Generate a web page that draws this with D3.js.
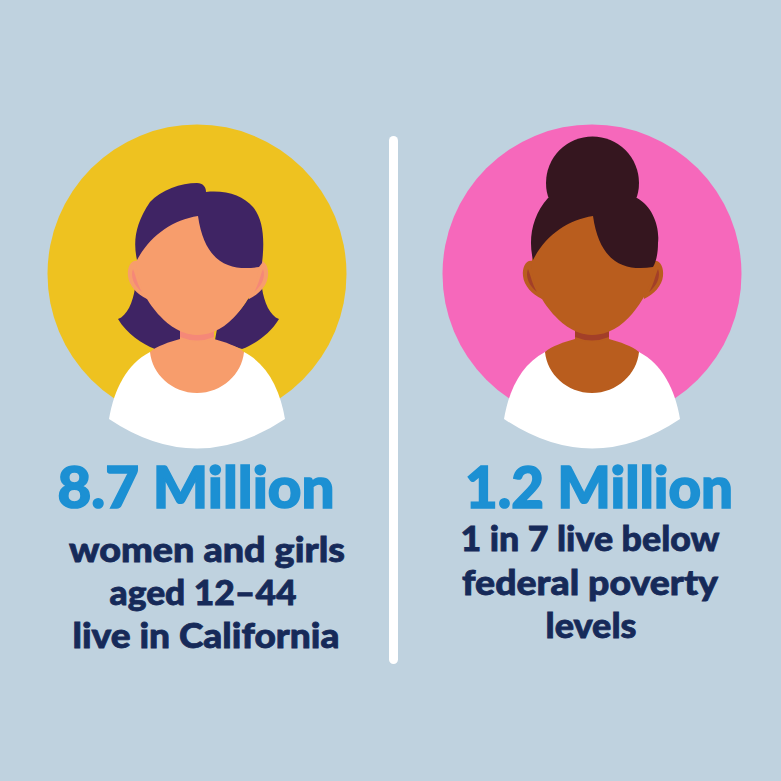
<!DOCTYPE html>
<html>
<head>
<meta charset="utf-8">
<script src="https://cdnjs.cloudflare.com/ajax/libs/d3/7.8.5/d3.min.js"></script>
<style>
  html, body { margin: 0; padding: 0; background: #bfd2df; }
  svg { display: block; }
  text { font-family: Lato, sans-serif; text-anchor: middle; }
</style>
</head>
<body>
<div class="container"></div>
<script>
const width = 781;
const height = 781;

// what the picture says
const groups = ['california', 'poverty'];
const headlines = ['8.7 Million', '1.2 Million'];
const captions = [
    ['women and girls', 'aged 12–44', 'live in California'],
    ['1 in 7 live below', 'federal poverty', 'levels']
];

// colours per figure
const circleColors = ['#eec220', '#f668bb'];
const hairColors = ['#3f2464', '#35161f'];
const skinColors = ['#f79d6c', '#b95d1e'];
const shadeColors = ['#f58878', '#a33f28'];

// text fitting
const headlineFit = [{x: 196, w: 277}, {x: 599, w: 268}];
const captionFit = [
    [{x: 207, y: 562, w: 276}, {x: 203, y: 605, w: 187}, {x: 206, y: 648, w: 267}],
    [{x: 590, y: 551, w: 259}, {x: 590, y: 595, w: 256}, {x: 591, y: 638, w: 91}]
];

const svg = d3.select('.container')
    .append('svg')
    .attr('width', width)
    .attr('height', height)
    .attr('viewBox', [0, 0, width, height]);

svg.append('rect')
    .attr('width', width)
    .attr('height', height)
    .attr('fill', '#bfd2df');

const figureX = d3.scalePoint().domain(groups).range([197, 592]);

// Figure outlines, relative to the middle of the circle
const shapes = {
    shirt: 'M-47,78 C-70,90 -83,115 -88,145 Q0,204 88,145 C83,115 70,90 47,78 Z',
    chest: 'M-47,78 C-40,72 -28,68 -17,65 Q0,71 17,65 C28,68 40,72 47,78 C45,100 25,119 0,119 C-25,119 -45,100 -47,78 Z',
    band: 'M-17,56 Q0,65 17,56 L17,63 Q0,70 -17,63 Z',
    face: 'M-60,-14 C-62,10 -48,30 -37,42 C-28,52 -14,61 0,61 C16,61 30,52 40,40 C50,28 60,12 62,-8 L62,-40 C50,-60 20,-70 1,-70 C-30,-70 -55,-40 -60,-14 Z',
    ear: 'M-59,-13 C-66,-15 -70,-7 -69,2 C-68,12 -60,20 -50,25 L-45,0 Z',
    earInner: 'M-64,-5 C-67,2 -63,12 -55,18 C-60,10 -61,2 -64,-5 Z',
    bob: 'M-62,14 C-64,28 -70,42 -79,45 C-70,60 -55,70 -42,75 L-15,66 L-17,55 C-30,48 -40,38 -48,25 Z',
    fringe: 'M-60,-14 C-64,-32 -62,-50 -47,-72 C-36,-84 -16,-91 0,-91 C6,-91 9,-87 9,-82 C30,-84 46,-78 56,-67 C66,-55 68,-35 65,-11 L62,-7 C36,-3 8,-8 1,-58 C-25,-54 -47,-38 -60,-14 Z',
    dome: 'M-59,-14 C-64,-35 -60,-58 -44,-76 L45,-76 C60,-68 68,-48 66,-31 C66,-20 64,-12 61,-7 C36,-3 8,-8 1,-58 C-25,-54 -47,-38 -59,-14 Z'
};

groups.forEach((name, i) => {
    const g = svg.append('g')
        .attr('class', name)
        .attr('transform', `translate(${figureX(name)},274)`);

    g.append('circle').attr('r', 149.5).attr('fill', circleColors[i]);

    if (i === 0) {
        g.append('path').attr('d', shapes.bob).attr('fill', hairColors[i]);
        g.append('path').attr('d', shapes.bob).attr('fill', hairColors[i])
            .attr('transform', 'translate(3,0) scale(-1,1)');
    } else {
        // the bun sits behind the face
        g.append('circle').attr('cx', 0.5).attr('cy', -91).attr('r', 46.5).attr('fill', hairColors[i]);
    }

    g.append('path').attr('d', shapes.shirt).attr('fill', '#fff');
    g.append('rect').attr('x', -17).attr('y', 40).attr('width', 34).attr('height', 30).attr('fill', skinColors[i]);
    g.append('path').attr('d', shapes.band).attr('fill', shadeColors[i]);
    g.append('path').attr('d', shapes.chest).attr('fill', skinColors[i]);

    // ears, second one mirrored
    [1, -1].forEach(side => {
        const ear = g.append('g').attr('transform', `translate(${side === 1 ? 0 : 2},0) scale(${side},1)`);
        ear.append('path').attr('d', shapes.ear).attr('fill', skinColors[i]);
        ear.append('path').attr('d', shapes.earInner).attr('fill', shadeColors[i]);
    });

    g.append('path').attr('d', shapes.face).attr('fill', skinColors[i]);
    g.append('path').attr('d', i === 0 ? shapes.fringe : shapes.dome).attr('fill', hairColors[i]);
});

// divider
svg.append('rect')
    .attr('x', 389)
    .attr('y', 136)
    .attr('width', 9)
    .attr('height', 528)
    .attr('rx', 4.5)
    .attr('fill', '#fff');

svg.selectAll('text.headline')
    .data(headlines)
    .enter()
    .append('text')
    .attr('class', 'headline')
    .attr('x', (d, i) => headlineFit[i].x)
    .attr('y', 508)
    .attr('font-size', 58)
    .attr('font-weight', 900)
    .attr('fill', '#1c90d3')
    .attr('stroke', '#1c90d3')
    .attr('stroke-width', 1.6)
    .attr('textLength', (d, i) => headlineFit[i].w)
    .attr('lengthAdjust', 'spacingAndGlyphs')
    .text(d => d);

captions.forEach((lines, i) => {
    svg.selectAll(`text.caption${i}`)
        .data(lines)
        .enter()
        .append('text')
        .attr('class', `caption${i}`)
        .attr('x', (d, j) => captionFit[i][j].x)
        .attr('y', (d, j) => captionFit[i][j].y)
        .attr('font-size', 35)
        .attr('font-weight', 900)
        .attr('fill', '#162a59')
        .attr('stroke', '#162a59')
        .attr('stroke-width', 0.8)
        .attr('textLength', (d, j) => captionFit[i][j].w)
        .attr('lengthAdjust', 'spacingAndGlyphs')
        .text(d => d);
});
</script>
</body>
</html>
